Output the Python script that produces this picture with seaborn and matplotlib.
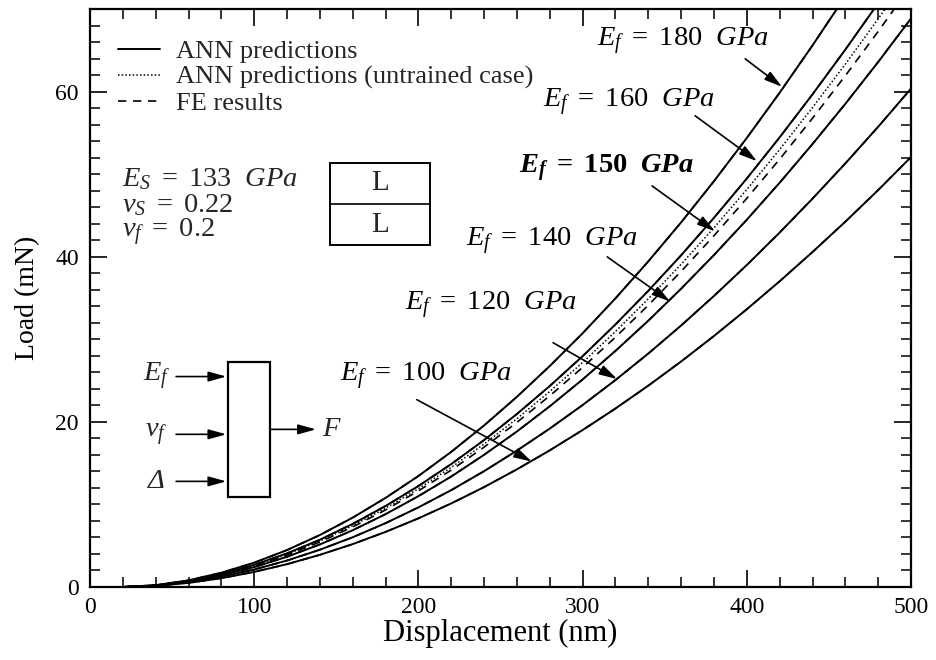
import matplotlib
matplotlib.use("Agg")
import matplotlib.pyplot as plt
from matplotlib.lines import Line2D
from matplotlib.patches import Rectangle
from matplotlib.ticker import MultipleLocator
import seaborn as sns
import pandas as pd

# Displacement grid (nm) and load-displacement curves (mN) for each film modulus
displacement = [20, 40, 60, 80, 100, 120, 140, 160, 180, 200, 220, 240, 260,
                280, 300, 320, 340, 360, 380, 400, 420, 440, 460, 480, 500]

load_ef100 = [0.0, 0.14, 0.50, 1.07, 1.83, 2.77, 3.90, 5.20, 6.68, 8.32, 10.13,
              12.11, 14.26, 16.56, 19.02, 21.63, 24.40, 27.33, 30.42, 33.66,
              37.05, 40.59, 44.27, 48.10, 52.10]
load_ef120 = [0.0, 0.16, 0.58, 1.24, 2.12, 3.21, 4.52, 6.03, 7.74, 9.65, 11.74,
              14.04, 16.53, 19.20, 22.05, 25.08, 28.29, 31.69, 35.27, 39.02,
              42.95, 47.06, 51.33, 55.77, 60.40]
load_ef140 = [0.0, 0.18, 0.66, 1.41, 2.41, 3.67, 5.16, 6.88, 8.83, 11.01, 13.39,
              16.02, 18.85, 21.90, 25.15, 28.61, 32.27, 36.15, 40.23, 44.51,
              48.99, 53.68, 58.55, 63.62, 68.90]
load_ef150_fe = [0.0, 0.19, 0.70, 1.49, 2.56, 3.88, 5.46, 7.28, 9.34, 11.65,
                 14.17, 16.95, 19.95, 23.17, 26.61, 30.27, 34.15, 38.25, 42.57,
                 47.10, 51.84, 56.80, 61.96, 67.32, 72.90]
load_ef150_ann = [0.0, 0.20, 0.72, 1.53, 2.61, 3.97, 5.58, 7.44, 9.55, 11.91,
                  14.50, 17.33, 20.40, 23.70, 27.21, 30.96, 34.92, 39.11, 43.53,
                  48.17, 53.02, 58.09, 63.36, 68.85, 74.56]
load_ef160 = [0.0, 0.20, 0.73, 1.57, 2.69, 4.08, 5.73, 7.65, 9.82, 12.24, 14.90,
              17.81, 20.97, 24.36, 27.97, 31.82, 35.89, 40.20, 44.74, 49.50,
              54.49, 59.70, 65.12, 70.75, 76.62]
load_ef180 = [0.0, 0.22, 0.81, 1.73, 2.95, 4.48, 6.30, 8.41, 10.80, 13.45, 16.38,
              19.58, 23.05, 26.78, 30.75, 34.98, 39.46, 44.19, 49.18, 54.42,
              59.90, 65.63, 71.58, 77.78, 84.23]

sns.set_theme(style="ticks")
plt.rcParams["font.family"] = ["Liberation Serif", "DejaVu Serif"]
plt.rcParams["mathtext.fontset"] = "custom"
plt.rcParams["mathtext.rm"] = "Liberation Serif"
plt.rcParams["mathtext.it"] = "Liberation Serif:italic"
plt.rcParams["mathtext.bf"] = "Liberation Serif:bold"
plt.rcParams["mathtext.bfit"] = "Liberation Serif:italic:bold"

fig = plt.figure(figsize=(9.37, 6.6), dpi=100)
ax = fig.add_axes([0.0961, 0.1106, 0.8762, 0.8753])

rows = []
series = [
    ("100", "FE", load_ef100), ("100", "ANN", load_ef100),
    ("120", "FE", load_ef120), ("120", "ANN", load_ef120),
    ("140", "FE", load_ef140), ("140", "ANN", load_ef140),
    ("150", "FE", load_ef150_fe), ("150", "ANN untrained", load_ef150_ann),
    ("160", "FE", load_ef160), ("160", "ANN", load_ef160),
    ("180", "FE", load_ef180), ("180", "ANN", load_ef180),
]
for ef, kind, vals in series:
    for d, v in zip(displacement, vals):
        rows.append({"Ef": ef, "kind": kind, "Displacement": d, "Load": v})
df = pd.DataFrame(rows)

styles = {
    "ANN": dict(linestyle="-", linewidth=1.4),
    "ANN untrained": dict(linestyle=(0, (1.0, 1.4)), linewidth=1.1),
    "FE": dict(linestyle=(0, (5, 4)), linewidth=1.2),
}
for (ef, kind), sub in df.groupby(["Ef", "kind"], sort=False):
    sns.lineplot(data=sub, x="Displacement", y="Load", ax=ax, color="black",
                 estimator=None, sort=True, legend=False, **styles[kind])

ax.set_xlim(0, 500)
ax.set_ylim(0, 70)
ax.xaxis.set_major_locator(MultipleLocator(100))
ax.xaxis.set_minor_locator(MultipleLocator(20))
ax.yaxis.set_major_locator(MultipleLocator(20))
ax.yaxis.set_minor_locator(MultipleLocator(2))
ax.tick_params(which="both", direction="in", top=True, right=True,
               color="black", labelsize=17, labelcolor="black")
ax.tick_params(axis="x", which="major", length=12, width=1.2, pad=7)
ax.tick_params(axis="y", which="major", length=12, width=1.2, pad=8)
ax.tick_params(which="minor", length=7, width=1.1)
for sp in ax.spines.values():
    sp.set_linewidth(1.6)
    sp.set_color("black")

ax.set_xlabel("Displacement (nm)", fontsize=22, color="black", labelpad=1)
ax.set_ylabel("Load (mN)", fontsize=20, color="black", labelpad=11)

# Legend
handles = [
    Line2D([], [], color="black", **styles["ANN"]),
    Line2D([], [], color="black", **styles["ANN untrained"]),
    Line2D([], [], color="black", **styles["FE"]),
]
labels = ["ANN predictions", "ANN predictions (untrained case)", "FE results"]
ax.legend(handles, labels, loc="upper left", bbox_to_anchor=(0.034, 0.947),
          frameon=False, fontsize=19, handlelength=1.6, handletextpad=0.6,
          labelspacing=0.08, borderpad=0.0, borderaxespad=0.0)

# Curve labels with arrows
annot_fs = 20.5
head = "-|>,head_length=0.9,head_width=0.25"
curve_labels = [
    (r"$E_f\ =\ 180\ \ GPa$", (309, 66.2), (399, 64.0), (421.5, 60.6)),
    (r"$E_f\ =\ 160\ \ GPa$", (276, 58.7), (368.5, 57.1), (406.2, 51.6)),
    (r"$\mathbfit{E}_{\mathbfit{f}}\ \mathbf{=\ 150}\ \ \mathbfit{GPa}$",
     (261, 50.7), (342.3, 48.6), (380.6, 43.1)),
    (r"$E_f\ =\ 140\ \ GPa$", (229, 41.9), (315, 40.0), (353.2, 34.6)),
    (r"$E_f\ =\ 120\ \ GPa$", (192, 34.1), (282, 29.6), (321, 25.2)),
    (r"$E_f\ =\ 100\ \ GPa$", (152, 25.5), (199, 22.7), (269, 15.2)),
]
for text, tpos, astart, aend in curve_labels:
    ax.text(tpos[0], tpos[1], text, fontsize=annot_fs, ha="left", va="center",
            color="black")
    ax.annotate("", xy=aend, xytext=astart,
                arrowprops=dict(arrowstyle=head, color="black", lw=1.2,
                                shrinkA=0, shrinkB=0))

# Substrate / film properties
ax.text(19.5, 49.4, r"$E_S\ =\ 133\ \ GPa$", fontsize=annot_fs, va="center")
ax.text(19.5, 46.3, r"$\nu_S\ =\ 0.22$", fontsize=annot_fs, va="center")
ax.text(19.5, 43.0, r"$\nu_f\ =\ 0.2$", fontsize=annot_fs, va="center")

# Two-layer sketch
ax.add_patch(Rectangle((146.2, 41.4), 60.9, 10.0, fill=False, lw=1.4,
                       edgecolor="black"))
ax.plot([146.2, 207.1], [46.4, 46.4], color="black", lw=1.2)
ax.text(176.6, 48.9, "L", fontsize=21, ha="center", va="center")
ax.text(176.6, 43.9, "L", fontsize=21, ha="center", va="center")

# Network sketch: inputs -> box -> output
ax.add_patch(Rectangle((84.0, 10.9), 25.6, 16.4, fill=False, lw=1.6,
                       edgecolor="black"))
net_inputs = [(r"$E_f$", 25.5), (r"$\nu_f$", 18.5)]
for lab, yv in net_inputs:
    ax.text(40.5, yv, lab, fontsize=annot_fs, ha="center", va="center")
for yv in (25.5, 18.5, 12.8):
    ax.annotate("", xy=(83.0, yv), xytext=(52.4, yv),
                arrowprops=dict(arrowstyle=head, color="black", lw=1.2,
                                shrinkA=0, shrinkB=0))
ax.text(40.5, 12.8, "Δ", fontsize=annot_fs, fontstyle="italic",
        ha="center", va="center")
ax.annotate("", xy=(137.6, 19.1), xytext=(109.6, 19.1),
            arrowprops=dict(arrowstyle=head, color="black", lw=1.2,
                            shrinkA=0, shrinkB=0))
ax.text(141.5, 19.1, r"$F$", fontsize=annot_fs, ha="left", va="center")

fig.savefig("out.png", dpi=100)
